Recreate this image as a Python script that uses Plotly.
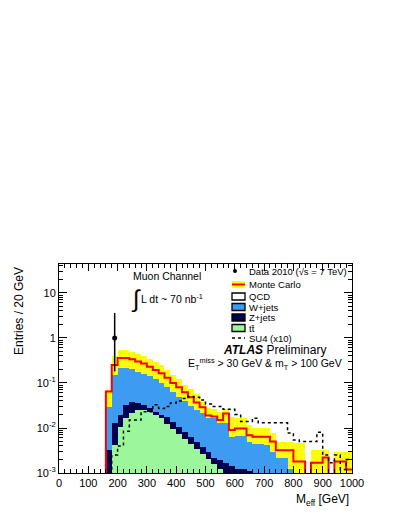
import numpy as np
import plotly.graph_objects as go

# 20 GeV bins, lower edges 160 ... 980
bin_lo = np.arange(160, 1000, 20)
bin_centers = bin_lo + 10

mc_total = [0.065, 0.25, 0.36, 0.36, 0.335, 0.30, 0.27, 0.23, 0.195, 0.165,
            0.13, 0.10, 0.08, 0.062, 0.048, 0.037, 0.029, 0.019, 0.018, 0.015,
            0.021, 0.009, 0.0098, 0.0098, 0.0069, 0.0064, 0.0064, 0.0064, 0.005, 0.0032,
            0.0032, 0.0032, 0.0018, 0.0018, 0, 0.0017, 0.0017, 0.0022, 0, 0.0018,
            0.0018, 0.0012]
mc_hi = [0.07, 0.40, 0.54, 0.54, 0.50, 0.45, 0.40, 0.34, 0.29, 0.245,
         0.19, 0.15, 0.12, 0.092, 0.072, 0.056, 0.038, 0.028, 0.027, 0.023,
         0.027, 0.018, 0.0164, 0.0164, 0.0117, 0.0102, 0.0102, 0.0102, 0.0076, 0.0048,
         0.0048, 0.0048, 0.0047, 0.0047, 0, 0.0032, 0.0032, 0.0032, 0, 0.003,
         0.003, 0.003]
mc_lo = [0.03, 0.15, 0.21, 0.21, 0.20, 0.18, 0.16, 0.14, 0.12, 0.10,
         0.08, 0.062, 0.05, 0.04, 0.031, 0.025, 0.0212, 0.0164, 0.0164, 0.0127,
         0.0127, 0.0062, 0.0068, 0.0068, 0.005, 0.0045, 0.0045, 0.0042, 0.003, 0.0022,
         0.0022, 0.0012, 0, 0, 0, 0, 0, 0, 0, 0,
         0, 0]
ttbar_top = [0, 0.0042, 0.0107, 0.0164, 0.0213, 0.025, 0.025, 0.023, 0.019, 0.0164,
             0.0125, 0.0097, 0.0075, 0.0058, 0.0045, 0.0035, 0.0027, 0.0021, 0.0016, 0.0012,
             0.0009, 0, 0, 0, 0, 0, 0, 0, 0, 0,
             0, 0, 0, 0, 0, 0, 0, 0, 0, 0,
             0, 0]
zjets_top = [0.0032, 0.0127, 0.019, 0.032, 0.038, 0.036, 0.033, 0.028, 0.023, 0.0195,
             0.0174, 0.0134, 0.0104, 0.008, 0.0062, 0.0048, 0.0037, 0.0029, 0.0022, 0.0019,
             0.0017, 0.0014, 0.0012, 0.0012, 0.0011, 0, 0, 0, 0, 0,
             0, 0, 0, 0, 0, 0, 0, 0, 0, 0,
             0, 0]
su4_x10 = [0, 0.0025, 0.004, 0.0085, 0.015, 0.015, 0.023, 0.023, 0.033, 0.027,
           0.03, 0.036, 0.04, 0.045, 0.05, 0.048, 0.042, 0.034, 0.03, 0.03,
           0.026, 0.026, 0.02, 0.014, 0.014, 0.0165, 0.013, 0.013, 0.013, 0.013,
           0.013, 0.0077, 0.0054, 0.005, 0.005, 0.005, 0.008, 0.0025, 0.0017, 0.0025,
           0.0012, 0.002]

data_x = [190]
data_y = [1.0]
data_err_up = [2.6]
data_err_down = [0.82]

ytick_vals = [1e-3, 1e-2, 1e-1, 1, 10]
ytick_text = ["10<sup>-3</sup>", "10<sup>-2</sup>", "10<sup>-1</sup>", "1", "10"]

FONT = "Liberation Sans, Arial, sans-serif"
FLOOR = 1e-6  # below the visible axis, for empty bins


def step(vals):
    v = np.where(np.array(vals) > 0, vals, FLOOR)
    x = np.concatenate([[bin_lo[0]], bin_lo, [bin_lo[-1] + 20]])
    y = np.concatenate([[FLOOR], v, [v[-1]]])
    return x, y


fig = go.Figure()

fig.add_trace(go.Bar(x=bin_centers, y=mc_total, width=20, marker_color="#3d9cf2",
                     marker_line_width=0))
fig.add_trace(go.Bar(x=bin_centers, y=zjets_top, width=20, marker_color="#000050",
                     marker_line_width=0))
fig.add_trace(go.Bar(x=bin_centers, y=ttbar_top, width=20, marker_color="#9cf79c",
                     marker_line_width=0))

lo = np.maximum(np.array(mc_lo), FLOOR)
hi = np.array(mc_hi)
fig.add_trace(go.Bar(x=bin_centers, y=np.where(hi > 0, hi - lo, 0), base=lo, width=20,
                     marker=dict(color="#ffff00", line_width=0,
                                 pattern=dict(shape=".", fgcolor="#c9c9a8", size=4, solidity=0.12))))

sx, sy = step(mc_total)
fig.add_trace(go.Scatter(x=sx, y=sy, mode="lines", line_shape="hv",
                         line=dict(color="#ff0000", width=2)))
sx, sy = step(su4_x10)
fig.add_trace(go.Scatter(x=sx, y=sy, mode="lines", line_shape="hv",
                         line=dict(color="black", width=1.5, dash="dot")))

fig.add_trace(go.Scatter(x=data_x, y=data_y, mode="markers",
                         marker=dict(color="black", size=5),
                         error_y=dict(type="data", symmetric=False, array=data_err_up,
                                      arrayminus=data_err_down, width=0, thickness=1.5,
                                      color="black")))

# pixel helpers for text placement (plot area 59..352 x 264..473 in the window)
def fx(p):
    return (p - 59) / 293.0


def fy(p):
    return (473 - p) / 209.0


def note(x, y, text, size, xanchor="left", **kw):
    return dict(x=fx(x), y=fy(y), xref="paper", yref="paper", text=text, showarrow=False,
                xanchor=xanchor, yanchor=kw.pop("yanchor", "middle"), font=dict(size=size), **kw)


annotations = [
    note(19, 265, "Entries / 20 GeV", 12, xanchor="center", yanchor="top", textangle=-90),
    note(351, 500, "M<sub>eff</sub> [GeV]", 12, xanchor="right"),
    note(131, 276, "Muon Channel", 10.5),
    note(129, 299, "\u222b", 24),
    note(139, 298, "L dt ~ 70 nb<sup>-1</sup>", 10.5),
    note(221, 350, "<b><i>ATLAS</i></b> Preliminary", 12),
    note(186, 364, "E<sub>T</sub><sup>miss</sup> &gt; 30 GeV &amp; m<sub>T</sub> &gt; 100 GeV", 10.5),
]

legend_items = [("Data 2010 (\u221as = 7 TeV)", 271), ("Monte Carlo", 284.5), ("QCD", 296.5),
                ("W+jets", 307), ("Z+jets", 317.5), ("tt\u0304", 328), ("SU4 (x10)", 338)]
for txt, yy in legend_items:
    annotations.append(note(247, yy, txt, 9.5))

shapes = [dict(type="circle", xref="paper", yref="paper", x0=fx(233), x1=fx(237),
               y0=fy(273), y1=fy(269), fillcolor="black", line_width=0)]
box_fill = [("#ffff00", 284.5, 0), ("white", 296.5, 1.3), ("#3d9cf2", 307, 1.3),
            ("#000050", 317.5, 1.3), ("#9cf79c", 328, 1.3)]
for col, yy, lw in box_fill:
    shapes.append(dict(type="rect", xref="paper", yref="paper", x0=fx(232), x1=fx(245),
                       y0=fy(yy + 3.5), y1=fy(yy - 3.5), fillcolor=col,
                       line=dict(color="black", width=lw)))
shapes.append(dict(type="line", xref="paper", yref="paper", x0=fx(232), x1=fx(245),
                   y0=fy(284.5), y1=fy(284.5), line=dict(color="#ff0000", width=2)))
shapes.append(dict(type="line", xref="paper", yref="paper", x0=fx(232), x1=fx(245),
                   y0=fy(338), y1=fy(338), line=dict(color="black", width=1.5, dash="dot")))

minor_y = [k * 10.0 ** d for d in range(-3, 2) for k in range(2, 10)]

# the page body adds an 8 px offset, so the figure is shifted accordingly
fig.update_layout(
    width=391, height=508,
    margin=dict(l=51, r=47, t=256, b=43, autoexpand=False),
    paper_bgcolor="white", plot_bgcolor="white",
    barmode="overlay", bargap=0, showlegend=False,
    font=dict(family=FONT, color="black"),
    annotations=annotations, shapes=shapes,
    xaxis=dict(range=[0, 1000], showline=True, linecolor="black", linewidth=1, mirror="ticks",
               ticks="inside", ticklen=7, tickcolor="black", dtick=100, showgrid=False,
               zeroline=False, tickfont=dict(size=11),
               minor=dict(ticks="inside", ticklen=4, dtick=20, tickcolor="black", showgrid=False)),
    yaxis=dict(type="log", range=[-3, 1.644], showline=True, linecolor="black", linewidth=1,
               mirror="ticks", ticks="inside", ticklen=8, tickcolor="black", tickmode="array",
               tickvals=ytick_vals, ticktext=ytick_text, showgrid=False, zeroline=False,
               tickfont=dict(size=11),
               minor=dict(ticks="inside", ticklen=4, tickmode="array", tickvals=minor_y,
                          tickcolor="black", showgrid=False)),
)

fig.write_html("out.html")
